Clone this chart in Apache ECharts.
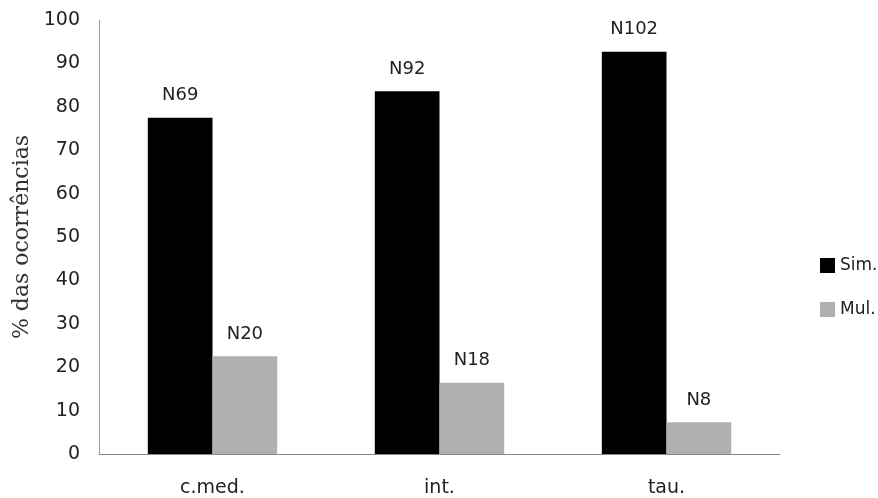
<!DOCTYPE html>
<html><head><meta charset="utf-8">
<script src="https://cdn.jsdelivr.net/npm/echarts@6/dist/echarts.min.js"></script>
<style>html,body{margin:0;padding:0;background:#fff}#c{width:878px;height:498px}</style>
</head><body><div id="c"></div>
<script>
const categories = ['c.med.', 'int.', 'tau.'];
const simValues = [77.5, 83.6, 92.7];
const mulValues = [22.5, 16.4, 7.3];
const simLabels = ['N69', 'N92', 'N102'];
const mulLabels = ['N20', 'N18', 'N8'];
const yTicks = { min: 0, max: 100, interval: 10 };

const chart = echarts.init(document.getElementById('c'));
const lblStyle = (arr) => ({
  show: true, position: 'top', distance: 13,
  fontFamily: 'DejaVu Sans', fontSize: 18, color: '#222',
  formatter: p => arr[p.dataIndex]
});
chart.setOption({
  animation: false,
  backgroundColor: '#fff',
  grid: { left: 99, right: 98, top: 20, bottom: 44, containLabel: false },
  legend: {
    orient: 'vertical', left: 815, top: 252, itemGap: 27,
    itemWidth: 15, itemHeight: 15, icon: 'rect',
    textStyle: { fontFamily: 'DejaVu Sans', fontSize: 17, color: '#222', padding: [0, 0, 0, 0] },
    data: ['Sim.', 'Mul.']
  },
  xAxis: {
    type: 'category', data: categories,
    axisLine: { lineStyle: { color: '#888', width: 1 } },
    axisTick: { show: false },
    axisLabel: { margin: 25, fontFamily: 'DejaVu Sans', fontSize: 19, color: '#222' }
  },
  yAxis: {
    type: 'value', min: yTicks.min, max: yTicks.max, interval: yTicks.interval,
    name: '% das ocorrências', nameLocation: 'middle', nameGap: 66,
    nameTextStyle: { fontFamily: 'DejaVu Serif', fontSize: 22, color: '#333' },
    axisLine: { show: true, lineStyle: { color: '#999', width: 1 } },
    axisTick: { show: false },
    splitLine: { show: false },
    axisLabel: { margin: 19, fontFamily: 'DejaVu Sans', fontSize: 19, color: '#222' }
  },
  series: [
    { name: 'Sim.', type: 'bar', data: simValues, barGap: '0%', barCategoryGap: '43%',
      itemStyle: { color: '#000' }, label: lblStyle(simLabels) },
    { name: 'Mul.', type: 'bar', data: mulValues,
      itemStyle: { color: '#b0b0b0' }, label: lblStyle(mulLabels) }
  ]
});
</script></body></html>
